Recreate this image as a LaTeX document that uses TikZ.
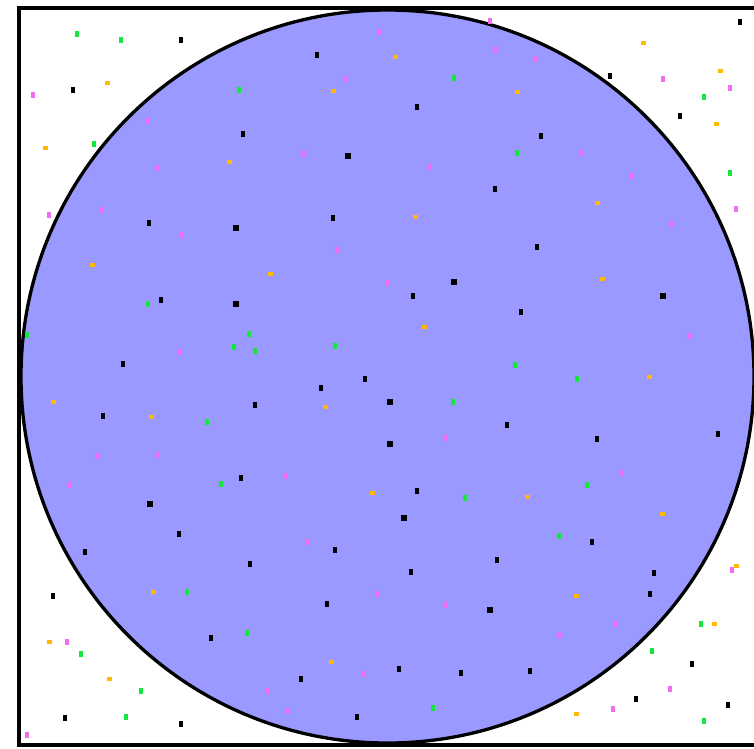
\documentclass[tikz,border=0pt]{standalone}
\definecolor{disk}{RGB}{153,153,255}
\definecolor{dmag}{RGB}{240,110,240}
\definecolor{dgrn}{RGB}{20,230,60}
\definecolor{dorg}{RGB}{255,185,0}
\tikzset{
  frame/.style={draw=black,line width=4pt},
  disc/.style={draw=black,fill=disk,line width=3.3pt},
}
\begin{document}
\begin{tikzpicture}[x=1pt,y=-1pt]
\useasboundingbox (0,0) rectangle (754,748);
\clip (0,0) rectangle (754,748);
\fill[white] (0,0) rectangle (754,748);
\draw[disc] (387.5,376.5) circle (366.5);
\draw[frame] (19,7.5) rectangle (756.5,745);
% small black dots
\foreach \x/\y in {181/40,73/90,243/134,149/223,317/55,417/107,495/189,333/218,
  740/22,610/76,680/116,541/136,537/247,161/300,123/364,103/416,241/478,
  413/296,365/379,321/388,255/405,417/491,521/312,507/425,597/439,718/434,
  179/534,85/552,250/564,53/596,211/638,65/718,181/724,
  335/550,497/560,411/572,327/604,399/669,461/673,301/679,357/717,
  592/542,654/573,650/594,692/664,530/671,636/699,728/705}
  \fill[black] (\x-2.3,\y-2.8) rectangle (\x+2.3,\y+2.8);
% large black dots
\foreach \x/\y in {236/228,348/156,236/304,454/282,390/402,390/444,663/296,150/504,404/518,490/610}
  \fill[black] (\x-3.3,\y-3.3) rectangle (\x+3.3,\y+3.3);
% magenta
\foreach \x/\y in {33/95,147/121,158/168,49/215,101/210,181/235,380/32,495/50,490/21,
  345/79,303/154,429/167,337/250,536/59,663/79,730/88,582/153,632/176,736/209,672/224,
  179/352,97/456,157/455,69/485,387/283,445/438,285/476,689/336,622/473,
  67/642,27/735,307/542,377/594,446/605,364/674,267/691,287/711,
  616/624,559/635,732/570,670/689,613/709}
  \fill[dmag] (\x-1.8,\y-3.3) rectangle (\x+1.8,\y+3.3);
% green
\foreach \x/\y in {77/34,121/40,239/90,94/144,454/78,704/97,517/153,730/173,
  148/304,27/335,249/334,234/347,207/422,221/484,255/351,335/346,453/402,465/498,
  515/365,577/379,587/485,187/592,247/633,81/654,141/691,126/717,433/708,
  559/536,701/624,652/651,704/721}
  \fill[dgrn] (\x-1.8,\y-3.3) rectangle (\x+1.8,\y+3.3);
% orange
\foreach \x/\y in {107/83,45/148,229/162,395/57,333/91,415/217,643/43,720/71,517/92,716/124,597/203,
  92/265,53/402,151/417,270/274,424/327,325/407,372/493,602/279,649/377,527/497,
  153/592,49/642,109/679,331/662,662/514,576/596,736/566,714/624,576/714}
  \fill[dorg] (\x-2.5,\y-2.2) rectangle (\x+2.5,\y+2.2);
\end{tikzpicture}
\end{document}
